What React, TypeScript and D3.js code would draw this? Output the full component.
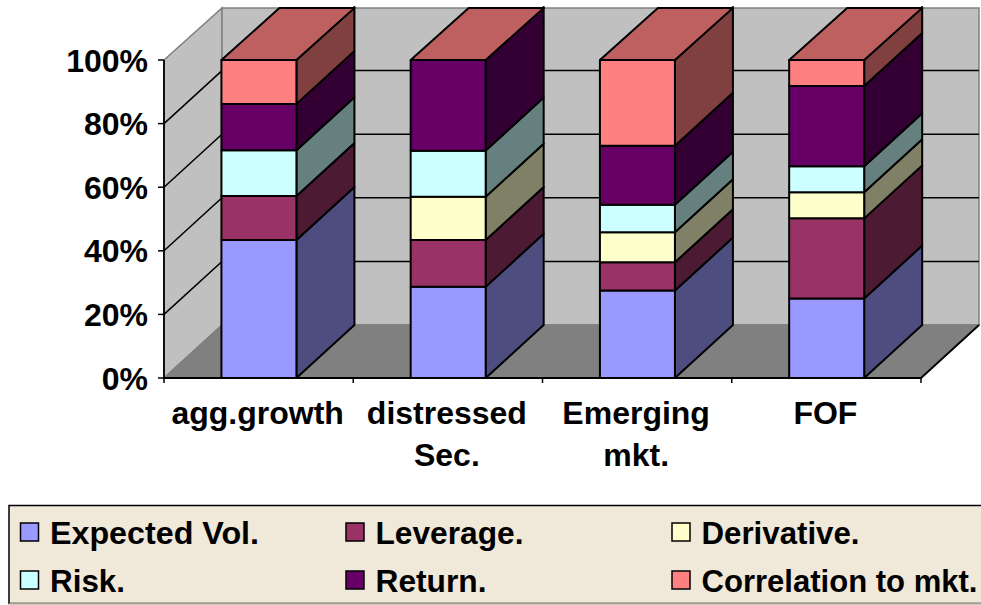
import React from "react";
import * as d3 from "d3";

const categories = ["agg.growth", "distressed Sec.", "Emerging mkt.", "FOF"];
const categoryLines = [["agg.growth"], ["distressed", "Sec."], ["Emerging", "mkt."], ["FOF"]];
const seriesNames = ["Expected Vol.", "Leverage.", "Derivative.", "Risk.", "Return.", "Correlation to mkt."];
const expectedVol = [43.4, 28.7, 27.5, 25];
const leverage = [13.8, 14.7, 8.9, 25.2];
const derivative = [0, 13.6, 9.4, 8.2];
const risk = [14.4, 14.5, 8.7, 8.2];
const returns = [14.6, 28.5, 18.5, 25.2];
const correlation = [13.8, 0, 27, 8.2];
const seriesValues = [expectedVol, leverage, derivative, risk, returns, correlation];
const yTicks = [0, 20, 40, 60, 80, 100];
const frontColors = ["#9999ff", "#993366", "#ffffcc", "#ccffff", "#660066", "#ff8080"];
const sideColors = ["#4d4d80", "#4d1a33", "#808066", "#668080", "#330033", "#804040"];
const topColor = "#bf6060";
const legendTextWidths = [209, 148, 158, 75, 111, 276];

const left = 164, right = 921, base = 378, top = 60, dx = 58, dy = 53;
const font = "'Liberation Sans', Arial, sans-serif";

export default function App() {
  const x = d3.scaleBand<string>().domain(categories).range([left, right]).paddingInner(0).paddingOuter(0);
  const y = d3.scaleLinear().domain([0, 100]).range([base, top]);
  const barW = 75;
  const rows = categories.map((c, i) => {
    const r: Record<string, number | string> = { c };
    seriesNames.forEach((s, j) => (r[s] = seriesValues[j][i]));
    return r;
  });
  const stacked = d3.stack<any>().keys(seriesNames)(rows);
  const poly = (p: [number, number][]) => d3.line()(p)! + "Z";
  const legendCols = [20.5, 346, 672];
  const legendRows = [523, 571];
  return (
    <svg width={981} height={605} style={{ position: "absolute", left: 0, top: 0, background: "#fff" }} fontFamily={font}>
      <path d={poly([[left, top], [left + dx, top - dy + 1], [left + dx, base - dy], [left, base]])} fill="#c0c0c0" stroke="#808080" strokeWidth={1.5} />
      <path d={poly([[left + dx, top - dy + 1], [right + dx, top - dy + 1], [right + dx, base - dy], [left + dx, base - dy]])} fill="#c0c0c0" stroke="#808080" strokeWidth={1.5} />
      <path d={poly([[left, base], [left + dx, base - dy], [right + dx, base - dy], [right, base]])} fill="#808080" stroke="#808080" strokeWidth={1.5} />
      {yTicks.slice(1, -1).map((t) => (
        <path key={t} d={d3.line()([[left, y(t)], [left + dx, y(t) - dy], [right + dx, y(t) - dy]])!} fill="none" stroke="#000" strokeWidth={1.5} />
      ))}
      <path d={d3.line()([[left, top], [left, base], [right, base], [right + dx, base - dy]])!} fill="none" stroke="#000" strokeWidth={1.8} />
      {yTicks.map((t) => (
        <g key={t}>
          <line x1={left - 6} x2={left} y1={y(t)} y2={y(t)} stroke="#000" strokeWidth={1.5} />
          <text x={148} y={y(t)} dy="0.36em" textAnchor="end" fontSize={32} fontWeight="bold">{t}%</text>
        </g>
      ))}
      {categories.concat("").map((c, i) => {
        const tx = left + i * x.bandwidth();
        return <line key={i} x1={tx} x2={tx} y1={base} y2={base + 5} stroke="#000" strokeWidth={1.5} />;
      })}
      {categories.map((c, i) => {
        const x0 = x(c)! + (x.bandwidth() - barW) / 2 + 0.3;
        const x1 = x0 + barW;
        const yTop = y(100);
        return (
          <g key={c} stroke="#000" strokeWidth={2} strokeLinejoin="round">
            {stacked.map((s, j) => {
              const [a, b] = s[i];
              if (b - a <= 0) return null;
              return (
                <g key={j}>
                  <path d={poly([[x1, y(b)], [x1 + dx, y(b) - dy], [x1 + dx, y(a) - dy], [x1, y(a)]])} fill={sideColors[j]} />
                  <rect x={x0} y={y(b)} width={barW} height={y(a) - y(b)} fill={frontColors[j]} />
                </g>
              );
            })}
            <path d={poly([[x0, yTop], [x0 + dx, yTop - dy + 1], [x1 + dx, yTop - dy + 1], [x1, yTop]])} fill={topColor} />
          </g>
        );
      })}
      {categories.map((c, i) => (
        <text key={c} textAnchor="middle" fontSize={32} fontWeight="bold">
          {categoryLines[i].map((l, k) => (
            <tspan key={k} x={x(c)! + x.bandwidth() / 2 - 1} y={424 + k * 42}>{l}</tspan>
          ))}
        </text>
      ))}
      <rect x={9} y={505.5} width={980} height={98} fill="#f0e8d8" stroke="#000" strokeWidth={1.5} />
      <line x1={9} x2={981} y1={604} y2={604} stroke="#d8d0c0" strokeWidth={1.5} />
      {seriesNames.map((s, i) => {
        const cx = legendCols[i % 3];
        const cy = legendRows[Math.floor(i / 3)];
        return (
          <g key={s}>
            <rect x={cx} y={cy} width={18} height={18} fill={frontColors[i]} stroke="#000" strokeWidth={1.5} />
            <text x={cx + 29.5} y={cy + 21} fontSize={32} fontWeight="bold" textLength={legendTextWidths[i]} lengthAdjust="spacingAndGlyphs">{s}</text>
          </g>
        );
      })}
    </svg>
  );
}
